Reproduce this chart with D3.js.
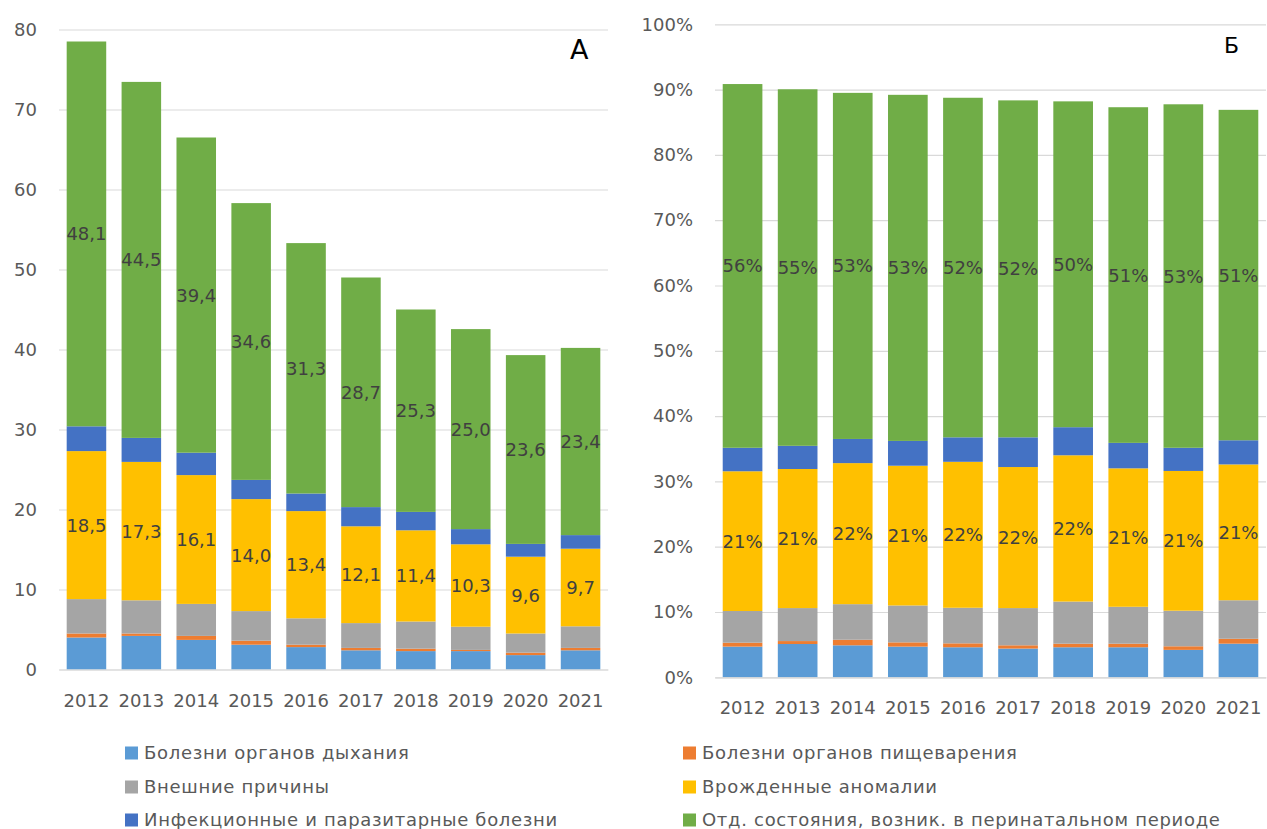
<!DOCTYPE html>
<html>
<head>
<meta charset="utf-8">
<script src="https://cdn.jsdelivr.net/npm/d3@7"></script>
<style>
  body { margin: 0; background: #fff; }
  text { font-family: "DejaVu Sans", sans-serif; }
</style>
</head>
<body>
<svg id="chart" width="1267" height="829"></svg>
<script>
// Years and causes
const years = ["2012", "2013", "2014", "2015", "2016", "2017", "2018", "2019", "2020", "2021"];
const causes = [
    "Болезни органов дыхания",
    "Болезни органов пищеварения",
    "Внешние причины",
    "Врожденные аномалии",
    "Инфекционные и паразитарные болезни",
    "Отд. состояния, возник. в перинатальном периоде"
];

// Chart A: absolute values
const absRespiratory = [4.0, 4.2, 3.7, 3.1, 2.8, 2.4, 2.3, 2.3, 1.8, 2.4];
const absDigestive   = [0.5, 0.3, 0.5, 0.5, 0.3, 0.3, 0.3, 0.15, 0.3, 0.3];
const absExternal    = [4.3, 4.15, 4.0, 3.7, 3.3, 3.1, 3.4, 2.9, 2.4, 2.7];
const absCongenital  = [18.5, 17.3, 16.1, 14.0, 13.4, 12.1, 11.4, 10.3, 9.6, 9.7];
const absInfectious  = [3.1, 3.0, 2.8, 2.4, 2.2, 2.4, 2.3, 1.9, 1.6, 1.7];
const absPerinatal   = [48.1, 44.5, 39.4, 34.6, 31.3, 28.7, 25.3, 25.0, 23.6, 23.4];

// Chart Б: shares, %
const pctRespiratory = [4.7, 5.1, 4.9, 4.7, 4.6, 4.4, 4.6, 4.6, 4.2, 5.15];
const pctDigestive   = [0.6, 0.45, 0.85, 0.65, 0.6, 0.5, 0.55, 0.55, 0.55, 0.75];
const pctExternal    = [4.85, 5.05, 5.45, 5.65, 5.45, 5.7, 6.45, 5.65, 5.45, 5.9];
const pctCongenital  = [21.4, 21.3, 21.6, 21.4, 22.35, 21.6, 22.4, 21.2, 21.4, 20.8];
const pctInfectious  = [3.6, 3.55, 3.7, 3.8, 3.75, 4.55, 4.3, 3.9, 3.55, 3.7];
const pctPerinatal   = [55.7, 54.6, 53.0, 53.0, 52.0, 51.6, 49.9, 51.4, 52.6, 50.6];

const absTicks = [0, 10, 20, 30, 40, 50, 60, 70, 80];
const pctTicks = [0, 0.1, 0.2, 0.3, 0.4, 0.5, 0.6, 0.7, 0.8, 0.9, 1];

// Colours per cause
const colors = ["#5B9BD5", "#ED7D31", "#A5A5A5", "#FFC000", "#4472C4", "#70AD47"];
// causes that get data labels (congenital, perinatal)
const labelled = [3, 5];

const svg = d3.select("#chart");

function buildRows(series, scale) {
    return years.map((y, i) => {
        const row = { year: y };
        series.forEach((s, k) => row[k] = s[i] * scale);
        return row;
    });
}

function drawPanel(opts) {
    const { rows, x0, x1, y0, y1, yDomain, ticks, tickFormat, labelFormat,
            letter, letterX, letterY, letterSize, xLabelPad } = opts;

    const keys = d3.range(causes.length);
    const stacked = d3.stack().keys(keys)(rows);

    const x = d3.scaleBand().domain(years).range([x0, x1]).paddingInner(0.28).paddingOuter(0.14);
    const y = d3.scaleLinear().domain(yDomain).range([y0, y1]);

    const g = svg.append("g");

    // grid + y labels
    const yAxis = d3.axisLeft(y).tickValues(ticks).tickFormat(tickFormat)
        .tickSize(-(x1 - x0)).tickPadding(22);
    const ya = g.append("g").attr("transform", `translate(${x0},0)`).call(yAxis);
    ya.select(".domain").remove();
    ya.selectAll(".tick line").attr("stroke", "#d9d9d9").attr("stroke-width", 1.2);
    ya.selectAll(".tick text").attr("fill", "#595959").style("font-size", "18px");

    // bars
    g.selectAll(".layer")
        .data(stacked)
        .enter().append("g")
        .attr("fill", d => colors[d.key])
        .selectAll("rect")
        .data(d => d)
        .enter().append("rect")
        .attr("x", d => x(d.data.year))
        .attr("y", d => y(d[1]))
        .attr("width", x.bandwidth())
        .attr("height", d => y(d[0]) - y(d[1]));

    // x axis
    const xAxis = d3.axisBottom(x).tickSize(0).tickPadding(xLabelPad);
    const xa = g.append("g").attr("transform", `translate(0,${y0})`).call(xAxis);
    xa.select(".domain").attr("stroke", "#d9d9d9").attr("stroke-width", 1.2);
    xa.selectAll(".tick text").attr("fill", "#595959").style("font-size", "18px");

    // data labels
    labelled.forEach(k => {
        g.append("g").selectAll("text")
            .data(stacked[k])
            .enter().append("text")
            .attr("x", d => x(d.data.year) + x.bandwidth() / 2)
            .attr("y", d => y((d[0] + d[1]) / 2))
            .attr("dy", "0.36em")
            .attr("text-anchor", "middle")
            .attr("fill", "#404040")
            .style("font-size", "18px")
            .text(d => labelFormat(d[1] - d[0]));
    });

    // panel letter
    g.append("text")
        .attr("x", letterX)
        .attr("y", letterY)
        .attr("fill", "#000")
        .style("font-size", letterSize)
        .text(letter);
}

drawPanel({
    rows: buildRows([absRespiratory, absDigestive, absExternal, absCongenital, absInfectious, absPerinatal], 1),
    x0: 59, x1: 608, y0: 669.5, y1: 29.5,
    yDomain: [0, 80], ticks: absTicks,
    tickFormat: d3.format("d"),
    labelFormat: v => d3.format(".1f")(v).replace(".", ","),
    letter: "А", letterX: 570, letterY: 59, letterSize: "27px", xLabelPad: 25
});

drawPanel({
    rows: buildRows([pctRespiratory, pctDigestive, pctExternal, pctCongenital, pctInfectious, pctPerinatal], 0.01),
    x0: 715, x1: 1266, y0: 677.3, y1: 24.3,
    yDomain: [0, 1], ticks: pctTicks,
    tickFormat: d3.format(".0%"),
    labelFormat: d3.format(".0%"),
    letter: "Б", letterX: 1224, letterY: 53, letterSize: "22px", xLabelPad: 24
});

// Legend
const legendX = [125, 683];
const legendY = [753, 787, 820];
const legend = svg.append("g");
causes.forEach((c, i) => {
    const lx = legendX[i % 2];
    const ly = legendY[Math.floor(i / 2)];
    legend.append("rect")
        .attr("x", lx).attr("y", ly - 6.5)
        .attr("width", 13).attr("height", 13)
        .attr("fill", colors[i]);
    legend.append("text")
        .attr("x", lx + 19).attr("y", ly)
        .attr("dy", "0.36em")
        .attr("fill", "#595959")
        .style("font-size", "18px")
        .style("letter-spacing", "0.7px")
        .text(c);
});
</script>
</body>
</html>
